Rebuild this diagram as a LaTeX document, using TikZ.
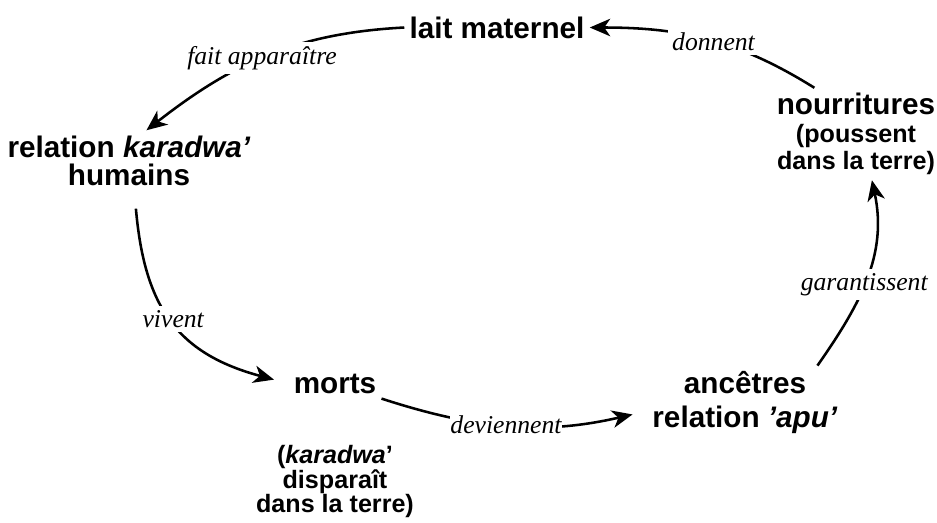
\documentclass[tikz,border=0pt]{standalone}
\usepackage{fontspec}
\setmainfont{Liberation Sans}
\newfontfamily\verbfont{Liberation Serif}
\usetikzlibrary{arrows.meta}
\tikzset{
  concept/.style={font=\bfseries\fontsize{16.9}{16}\selectfont,align=center,inner sep=2.8pt},
  note/.style={font=\bfseries\fontsize{14.3}{14.2}\selectfont,align=center,inner sep=2.8pt},
  verb/.style={font=\verbfont\itshape\fontsize{14.6}{16}\selectfont,fill=white,inner sep=2.5pt},
  cyc/.style={-{Stealth[length=4.1mm,width=3.5mm,inset=1.2mm]},line width=1.45pt},
}
\newcommand{\subline}{\fontsize{14.3}{14}\selectfont}
\begin{document}
\begin{tikzpicture}[x=0.02cm,y=-0.02cm]
\useasboundingbox (0,0) rectangle (937,522);
% the five stations of the cycle
\node[concept] (lait) at (497,27.5) {lait maternel};
\node[concept] (relation) at (129,160.5) {relation \textit{karadwa’}\\humains};
\node[concept] (morts) at (335,383.5) {morts};
\node[note] (mortsnote) at (335,481.5) {(\textit{karadwa}’\\disparaît\\dans la terre)};
\node[concept,font=\bfseries\fontsize{16.9}{19.9}\selectfont] (ancetres) at (745,402.5) {ancêtres\\relation \textit{’apu’}};
\node[concept] (nourr) at (856,134) {nourritures\\{\subline (poussent}\\[-0.6pt]{\subline dans la terre)}};
% connectors
\draw[cyc] (lait.west) to[out=183,in=38] node[verb,pos=0.52] {fait apparaître} (relation.60);
\draw[cyc,shorten <=3.6mm,shorten >=3mm] (relation.-80) to[out=-85,in=165,looseness=1.2] node[verb,pos=0.5] {vivent} (morts.west);
\draw[cyc,shorten >=3mm] (morts.south east) to[out=-18,in=193] node[verb,inner sep=0.5pt,pos=0.47] {deviennent} (ancetres.185);
\draw[cyc] (ancetres.27) to[out=55,in=-78] node[verb,pos=0.46] {garantissent} (nourr.-71);
\draw[cyc] (nourr.132) to[out=148,in=0] node[verb,pos=0.47] {donnent} (lait.east);
\end{tikzpicture}
\end{document}
